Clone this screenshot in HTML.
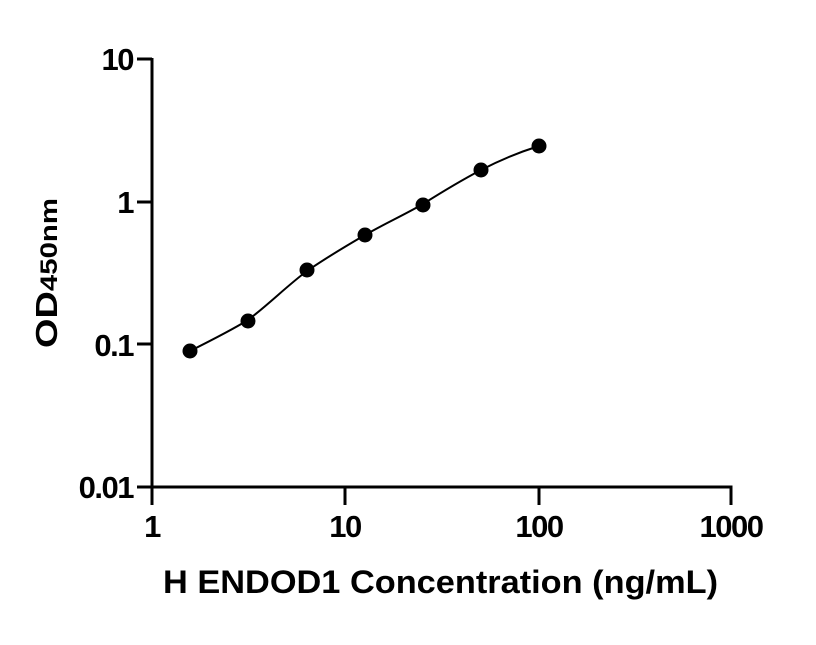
<!DOCTYPE html>
<html><head><meta charset="utf-8"><style>html,body{margin:0;padding:0;background:#fff}</style></head>
<body>
<svg width="816" height="640" xmlns="http://www.w3.org/2000/svg" font-family="Liberation Sans, sans-serif" font-weight="bold">
<rect width="816" height="640" fill="#fff"/>
<g stroke="#000" stroke-width="3" fill="none">
<line x1="152" y1="58" x2="152" y2="505"/>
<line x1="150.5" y1="487" x2="732" y2="487"/>
<line x1="137" y1="59" x2="152" y2="59"/>
<line x1="137" y1="202" x2="152" y2="202"/>
<line x1="137" y1="344" x2="152" y2="344"/>
<line x1="137" y1="487" x2="152" y2="487"/>
<line x1="345" y1="487" x2="345" y2="505"/>
<line x1="539" y1="487" x2="539" y2="505"/>
<line x1="731" y1="485.5" x2="731" y2="505"/>
</g>
<g font-size="31" text-anchor="end" letter-spacing="-1.5">
<text x="133" y="70">10</text>
<text x="133" y="213">1</text>
<text x="133" y="356">0.1</text>
<text x="133" y="498">0.01</text>
</g>
<g font-size="31" text-anchor="middle" letter-spacing="-1.5">
<text x="152" y="537">1</text>
<text x="345" y="537">10</text>
<text x="539" y="537">100</text>
<text x="731" y="537">1000</text>
</g>
<text x="163" y="593" font-size="32" textLength="555" lengthAdjust="spacingAndGlyphs">H ENDOD1 Concentration (ng/mL)</text>
<text transform="translate(57,348) rotate(-90)" font-size="31" textLength="150" lengthAdjust="spacingAndGlyphs">OD<tspan font-size="24">450nm</tspan></text>
<path d="M190,351 C210,341 230,331 248,320 C268,305 288,285 307,271 C326,258 346,246 365,235 C384,224 404,215 423,204 C442,192 462,180 481,170 C500,160 520,152 539,146" stroke="#000" stroke-width="2" fill="none"/>
<g fill="#000">
<circle cx="190" cy="351" r="7.5"/>
<circle cx="248" cy="321" r="7.5"/>
<circle cx="307" cy="270" r="7.5"/>
<circle cx="365" cy="235" r="7.5"/>
<circle cx="423" cy="205" r="7.5"/>
<circle cx="481" cy="170" r="7.5"/>
<circle cx="539" cy="146" r="7.5"/>
</g>
</svg>
</body></html>
